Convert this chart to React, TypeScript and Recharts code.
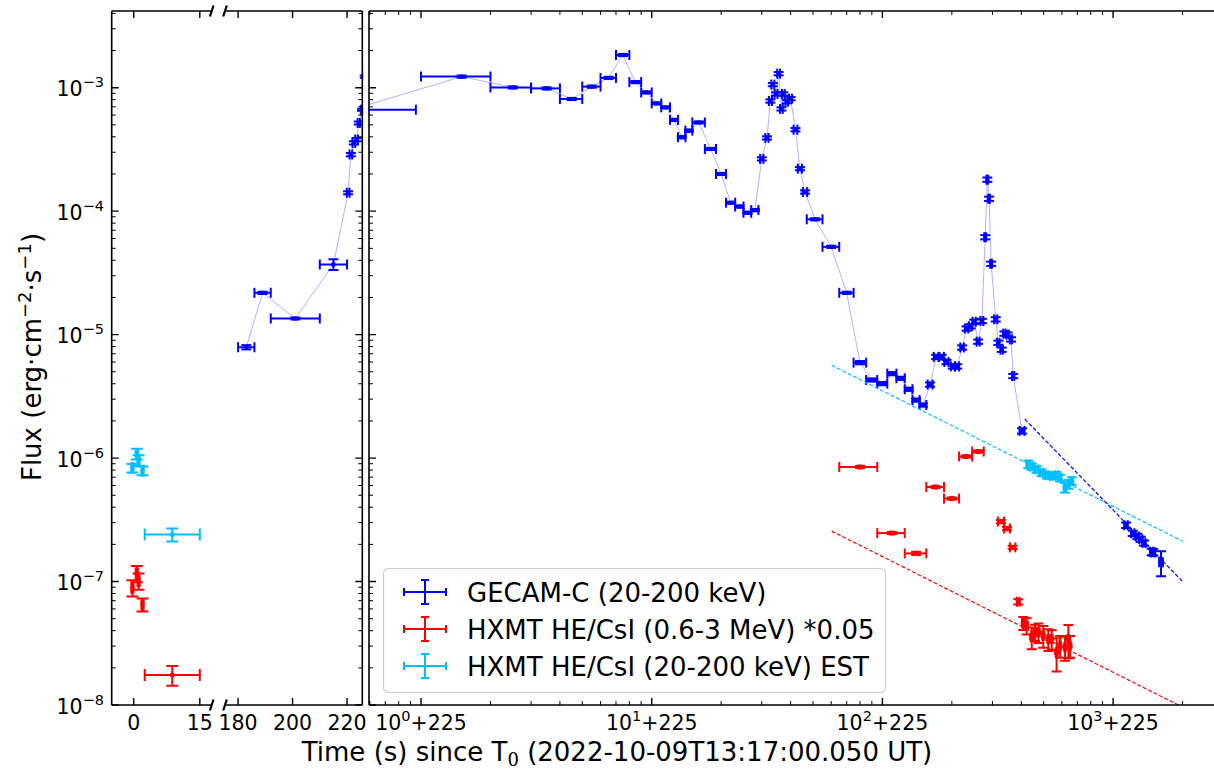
import React from 'react';
import { ComposedChart, Scatter, XAxis, YAxis, ErrorBar } from 'recharts';

const FONT = '"DejaVu Sans", Verdana, sans-serif';
const BLUE = '#0000ff';
const RED = '#ff0000';
const CYAN = '#00bfff';

// The right-hand panel shows time as (t - 225 s) on a log axis
const T_SHIFT = 225;

// ---------------- GECAM-C (20-200 keV), connected light curve ----------------
// bin centre, s since T0
const gecamTime = [
  183, 189, 201, 215, 220.4, 221.4, 222.5, 223.5, 224.3, 225.5,
  226.5, 227.5, 228.5, 229.5, 230.5, 231.5, 232.5, 233.5, 234.5, 235.5,
  236.5, 237.5, 238.5, 239.5, 241, 243, 245, 247, 249, 251,
  253, 255, 256.6, 257.7, 258.5, 259.6, 260.5, 261.5, 262.2, 263.5,
  265, 267, 268.9, 271.2, 276, 285, 295, 305, 315, 325,
  335, 345, 355, 365, 375, 386, 396, 405.7, 414.6, 427,
  436, 446.6, 456.6, 466, 475, 485, 495, 504, 510, 515,
  521, 535, 543, 554, 563, 574, 586, 594, 628,
];
// half bin width, s
const gecamHalfBin = [
  3, 3, 9, 5, 0.5, 0.5, 0.5, 0.5, 0.4, 0.45,
  0.5, 0.5, 0.5, 0.5, 0.5, 0.5, 0.5, 0.5, 0.5, 0.5,
  0.5, 0.5, 0.5, 0.5, 1, 1, 1, 1, 1, 1,
  1, 0.5, 0.5, 0.5, 0.5, 0.5, 0.5, 0.5, 0.5, 0.5,
  0.6, 0.8, 0.9, 1, 4, 5, 5, 5, 5, 5,
  5, 5, 5, 5, 5, 4, 4, 4, 4, 4,
  4, 4, 4, 4, 4, 4, 4, 2.5, 2.5, 2.5,
  2.5, 5, 4, 4, 4, 4, 4, 4, 10,
];
// flux, erg cm^-2 s^-1
const gecamFlux = [
  7.9e-6, 2.18e-5, 1.35e-5, 3.7e-5, 1.41e-4, 2.87e-4, 3.57e-4, 3.8e-4, 5.18e-4, 6.63e-4,
  1.23e-3, 1.005e-3, 9.87e-4, 8.1e-4, 1.02e-3, 1.2e-3, 1.84e-3, 1.11e-3, 9.16e-4, 7.46e-4,
  6.93e-4, 5.48e-4, 3.97e-4, 4.49e-4, 5.23e-4, 3.19e-4, 2.0e-4, 1.17e-4, 1.09e-4, 9.7e-5,
  1.02e-4, 2.65e-4, 3.92e-4, 7.8e-4, 1.06e-3, 8.9e-4, 1.3e-3, 6.73e-4, 8.9e-4, 7.7e-4,
  8.15e-4, 4.57e-4, 2.21e-4, 1.43e-4, 8.59e-5, 5.14e-5, 2.18e-5, 5.93e-6, 4.29e-6, 4.01e-6,
  4.83e-6, 4.43e-6, 3.61e-6, 2.95e-6, 2.69e-6, 3.94e-6, 6.6e-6, 6.6e-6, 6.0e-6, 5.53e-6,
  5.53e-6, 7.87e-6, 1.12e-5, 1.17e-5, 1.27e-5, 8.77e-6, 1.29e-5, 6.15e-5, 1.8e-4, 1.26e-4,
  3.75e-5, 1.33e-5, 8.6e-6, 7.55e-6, 1.02e-5, 1.0e-5, 9.15e-6, 4.62e-6, 1.66e-6,
];
// relative 1-sigma flux error
const gecamRelErr = [
  0.04, 0.02, 0.02, 0.1, 0.03, 0.03, 0.03, 0.03, 0.03, 0.02,
  0.02, 0.02, 0.02, 0.02, 0.02, 0.02, 0.02, 0.02, 0.02, 0.02,
  0.02, 0.02, 0.02, 0.02, 0.02, 0.02, 0.02, 0.02, 0.02, 0.02,
  0.02, 0.03, 0.03, 0.03, 0.03, 0.03, 0.03, 0.03, 0.03, 0.03,
  0.03, 0.03, 0.03, 0.03, 0.02, 0.02, 0.02, 0.03, 0.03, 0.03,
  0.03, 0.03, 0.03, 0.03, 0.03, 0.04, 0.04, 0.04, 0.04, 0.04,
  0.04, 0.04, 0.04, 0.04, 0.04, 0.04, 0.04, 0.04, 0.04, 0.04,
  0.04, 0.04, 0.04, 0.04, 0.04, 0.04, 0.04, 0.04, 0.05,
];

// ---------------- GECAM-C late-time points (not connected) ----------------
const gecamTailTime = [1363, 1442, 1499, 1543, 1587, 1695, 1719, 1839];
const gecamTailHalfBin = [20, 20, 20, 20, 20, 25, 25, 30];
const gecamTailFlux = [2.86e-7, 2.46e-7, 2.32e-7, 2.2e-7, 2.05e-7, 1.74e-7, 1.72e-7, 1.43e-7];
const gecamTailRelErr = [0.05, 0.05, 0.05, 0.05, 0.05, 0.06, 0.06, 0.23];

// ---------------- HXMT HE/CsI (0.6-3 MeV) *0.05 ----------------
const hxmtHighTime = [
  -0.3, 0.7, 1.1, 2.0, 8.75,
  305, 335, 365, 395, 425, 455, 485, 551.6, 572, 592, 613,
  633, 647, 669, 684, 700, 723, 749, 767, 794, 814, 844, 865, 876,
];
const hxmtHighHalfBin = [
  0.25, 0.25, 0.25, 0.25, 6.25,
  15, 15, 15, 15, 15, 15, 15, 10, 10, 10, 5,
  5, 5, 5, 5, 5, 5, 5, 5, 5, 5, 5, 5, 5,
];
const hxmtHighFlux = [
  8.9e-8, 1.16e-7, 1.01e-7, 6.5e-8, 1.75e-8,
  8.47e-7, 2.47e-7, 1.69e-7, 5.83e-7, 4.7e-7, 1.03e-6, 1.13e-6, 3.06e-7, 2.69e-7, 1.89e-7, 6.86e-8,
  4.6e-8, 4.38e-8, 3.53e-8, 3.88e-8, 3.88e-8, 3.64e-8, 3.42e-8, 3.42e-8, 2.67e-8, 3.02e-8, 2.93e-8, 3.42e-8, 3.02e-8,
];
const hxmtHighRelErr = [
  0.15, 0.15, 0.15, 0.12, 0.18,
  0.02, 0.02, 0.03, 0.02, 0.02, 0.02, 0.02, 0.03, 0.03, 0.03, 0.05,
  0.12, 0.15, 0.2, 0.15, 0.18, 0.2, 0.2, 0.18, 0.3, 0.2, 0.22, 0.3, 0.2,
];

// ---------------- HXMT HE/CsI (20-200 keV) EST ----------------
const hxmtLowTime = [-0.3, 0.7, 1.1, 2.0, 8.75, 654, 669, 691, 715, 740, 767, 794, 814, 844, 865, 887];
const hxmtLowHalfBin = [0.25, 0.25, 0.25, 0.25, 6.25, 8, 8, 8, 8, 8, 8, 8, 8, 8, 8, 8];
const hxmtLowFlux = [
  8.3e-7, 1.08e-6, 9.6e-7, 7.9e-7, 2.4e-7,
  8.9e-7, 8.53e-7, 8.1e-7, 7.63e-7, 7.27e-7, 7.17e-7, 7.27e-7, 6.9e-7, 5.77e-7, 6.14e-7, 6.53e-7,
];
const hxmtLowRelErr = [
  0.08, 0.1, 0.1, 0.08, 0.12,
  0.07, 0.06, 0.06, 0.06, 0.06, 0.06, 0.06, 0.06, 0.09, 0.08, 0.07,
];

// ---------------- power-law decay fits (end points) ----------------
const fitLowTime = [285.3, 2230];
const fitLowFlux = [5.64e-6, 2.12e-7];
const fitHighTime = [285.3, 2230];
const fitHighFlux = [2.56e-7, 9.6e-9];
const fitGecamTime = [639, 2230];
const fitGecamFlux = [2.07e-6, 9.96e-8];

// ---------------- axes ----------------
const FLUX_DOMAIN: [number, number] = [1e-8, 4.18e-3];
const FLUX_TICKS = [-8, -7, -6, -5, -4, -3].flatMap((e) =>
  [1, 2, 3, 4, 5, 6, 7, 8, 9].map((m) => m * Math.pow(10, e))
).filter((v) => v <= FLUX_DOMAIN[1]);

const EARLY_DOMAIN: [number, number] = [-5, 17.7];
const EARLY_TICKS = [0, 15];
const RISE_DOMAIN: [number, number] = [175.2, 225.6];
const RISE_TICKS = [180, 200, 220];
const LOG_DOMAIN: [number, number] = [0.595, 3212];
const LOG_TICKS = [-1, 0, 1, 2, 3].flatMap((e) =>
  [1, 2, 3, 4, 5, 6, 7, 8, 9].map((m) => m * Math.pow(10, e))
).filter((v) => v >= LOG_DOMAIN[0] && v <= LOG_DOMAIN[1]);

// ---------------- layout ----------------
const W = 1214;
const H = 770;
const PLOT_TOP = 11;
const PLOT_BOTTOM = 705;
const A_LEFT = 111.7;
const A_RIGHT = 211.7;
const B_LEFT = 225;
const B_RIGHT = 362.3;
const C_LEFT = 369;
const C_RIGHT = 1230;
const AXIS_W = 40;
const AXIS_H = 30;
const TICK_FS = 20.5;
const SUP_FS = 14.5;
const LABEL_FS = 26;

// clip regions: plot area plus the tick-label band beneath it
const polygon = (pts: [number, number][]) => `polygon(${pts.map(([x, y]) => `${x}px ${y}px`).join(', ')})`;
const CLIP_A = polygon([[0, 0], [A_RIGHT + 0.8, 0], [A_RIGHT + 0.8, PLOT_BOTTOM + 1], [218, PLOT_BOTTOM + 1], [218, H], [0, H]]);
const CLIP_B = polygon([
  [B_LEFT, 0], [B_RIGHT + 0.8, 0], [B_RIGHT + 0.8, PLOT_BOTTOM + 1], [370, PLOT_BOTTOM + 1], [370, H],
  [B_LEFT - 8, H], [B_LEFT - 8, PLOT_BOTTOM + 1], [B_LEFT, PLOT_BOTTOM + 1],
]);
const CLIP_C = polygon([
  [C_LEFT - 0.8, 0], [1240, 0], [1240, PLOT_BOTTOM + 1], [1165, PLOT_BOTTOM + 1], [1165, H], [C_LEFT - 0.8, H],
]);

type Row = { x: number; y: number; ex: number; ey: number };

function buildRows(time: number[], half: number[], flux: number[], rel: number[], shift = 0): Row[] {
  return time.map((t, i) => ({ x: t - shift, y: flux[i], ex: half[i], ey: flux[i] * rel[i] }));
}

function buildLine(time: number[], flux: number[], shift = 0): Row[] {
  return time.map((t, i) => ({ x: t - shift, y: flux[i], ex: 0, ey: 0 }));
}

const isDecade = (v: number) => {
  const l = Math.log10(v);
  return Math.abs(l - Math.round(l)) < 1e-6;
};

const gecamRows = buildRows(gecamTime, gecamHalfBin, gecamFlux, gecamRelErr);
const highRows = buildRows(hxmtHighTime, hxmtHighHalfBin, hxmtHighFlux, hxmtHighRelErr);
const lowRows = buildRows(hxmtLowTime, hxmtLowHalfBin, hxmtLowFlux, hxmtLowRelErr);

const positive = (rows: Row[]) => rows.filter((r) => r.x > 0);
const gecamRowsLog = positive(buildRows(gecamTime, gecamHalfBin, gecamFlux, gecamRelErr, T_SHIFT));
const gecamTailRowsLog = positive(buildRows(gecamTailTime, gecamTailHalfBin, gecamTailFlux, gecamTailRelErr, T_SHIFT));
const highRowsLog = positive(buildRows(hxmtHighTime, hxmtHighHalfBin, hxmtHighFlux, hxmtHighRelErr, T_SHIFT));
const lowRowsLog = positive(buildRows(hxmtLowTime, hxmtLowHalfBin, hxmtLowFlux, hxmtLowRelErr, T_SHIFT));
const fitLowRows = buildLine(fitLowTime, fitLowFlux, T_SHIFT);
const fitHighRows = buildLine(fitHighTime, fitHighFlux, T_SHIFT);
const fitGecamRows = buildLine(fitGecamTime, fitGecamFlux, T_SHIFT);

// ---------------- marks ----------------
const square = (size: number, color: string) => (props: any) => {
  const { cx, cy } = props;
  if (!Number.isFinite(cx) || !Number.isFinite(cy)) return <g />;
  return <rect x={cx - size / 2} y={cy - size / 2} width={size} height={size} fill={color} />;
};
const noMarker = () => <g />;

// ---------------- ticks ----------------
const yTick = (spineX: number, dir: 1 | -1, withLabel: boolean) => (props: any) => {
  const { y, payload } = props;
  const v = payload.value as number;
  const major = isDecade(v);
  const len = major ? 7 : 4;
  const e = Math.round(Math.log10(v));
  return (
    <g>
      <line x1={spineX} x2={spineX + dir * len} y1={y} y2={y} stroke="#000" strokeWidth={major ? 1.4 : 1} />
      {withLabel && major && (
        <text x={104} y={y + 8.5} textAnchor="end" fontSize={TICK_FS} fontFamily={FONT} fill="#000">
          10
          <tspan dy={-9} fontSize={SUP_FS}>{'\u2212' + Math.abs(e)}</tspan>
        </text>
      )}
    </g>
  );
};

const xTickLinear = (props: any) => {
  const { x, payload } = props;
  return (
    <g>
      <line x1={x} x2={x} y1={PLOT_BOTTOM} y2={PLOT_BOTTOM - 7} stroke="#000" strokeWidth={1.4} />
      <line x1={x} x2={x} y1={PLOT_TOP} y2={PLOT_TOP + 7} stroke="#000" strokeWidth={1.4} />
      <text x={x} y={729.5} textAnchor="middle" fontSize={TICK_FS} fontFamily={FONT} fill="#000">
        {payload.value}
      </text>
    </g>
  );
};

const xTickLog = (props: any) => {
  const { x, payload } = props;
  const v = payload.value as number;
  const major = isDecade(v);
  const len = major ? 7 : 4;
  const e = Math.round(Math.log10(v));
  return (
    <g>
      <line x1={x} x2={x} y1={PLOT_BOTTOM} y2={PLOT_BOTTOM - len} stroke="#000" strokeWidth={major ? 1.4 : 1} />
      <line x1={x} x2={x} y1={PLOT_TOP} y2={PLOT_TOP + len} stroke="#000" strokeWidth={major ? 1.4 : 1} />
      {major && (
        <text x={x} y={729.5} textAnchor="middle" fontSize={TICK_FS} fontFamily={FONT} fill="#000">
          10
          <tspan dy={-9} fontSize={SUP_FS}>{e}</tspan>
          <tspan dy={9}>{'+' + T_SHIFT}</tspan>
        </text>
      )}
    </g>
  );
};

// ---------------- series helpers ----------------
function dataSeries(rows: Row[], color: string, marker: number, capW: number, key: string, line?: boolean) {
  return (
    <Scatter
      key={key}
      data={rows}
      fill={color}
      shape={square(marker, color)}
      isAnimationActive={false}
      line={line ? { stroke: color, strokeOpacity: 0.35, strokeWidth: 0.9 } : false}
      lineType="joint"
    >
      <ErrorBar dataKey="ex" direction="x" width={capW} stroke={color} strokeWidth={2} />
      <ErrorBar dataKey="ey" direction="y" width={capW} stroke={color} strokeWidth={2} />
    </Scatter>
  );
}

function fitSeries(rows: Row[], color: string, key: string) {
  return (
    <Scatter
      key={key}
      data={rows}
      fill={color}
      shape={noMarker}
      isAnimationActive={false}
      line={{ stroke: color, strokeWidth: 1.2, strokeDasharray: '4 2' }}
      lineType="joint"
    />
  );
}

const legendRows = [
  { label: 'GECAM-C (20-200 keV)', color: BLUE },
  { label: 'HXMT HE/CsI (0.6-3 MeV) *0.05', color: RED },
  { label: 'HXMT HE/CsI (20-200 keV) EST', color: CYAN },
];

function BreakMark({ x, y }: { x: number; y: number }) {
  return <line x1={x - 1.8} y1={y + 5.5} x2={x + 1.8} y2={y - 5.5} stroke="#000" strokeWidth={2.2} />;
}

export default function App() {
  const spine = { stroke: '#000', strokeWidth: 1.6 };
  return (
    <div style={{ position: 'relative', width: W, height: H, overflow: 'hidden', background: '#fff' }}>
      <style>{'body{margin:0;overflow:hidden;background:#fff}'}</style>

      {/* early HXMT emission, 0-15 s */}
      <div style={{ position: 'absolute', left: 0, top: 0, clipPath: CLIP_A }}>
        <ComposedChart
          width={240}
          height={H}
          margin={{ top: PLOT_TOP, bottom: H - PLOT_BOTTOM - AXIS_H, left: A_LEFT - AXIS_W, right: 240 - A_RIGHT }}
        >
          <XAxis dataKey="x" type="number" domain={EARLY_DOMAIN} allowDataOverflow ticks={EARLY_TICKS} interval={0}
            height={AXIS_H} tickLine={false} axisLine={false} tick={xTickLinear} />
          <YAxis dataKey="y" type="number" scale="log" domain={FLUX_DOMAIN} allowDataOverflow ticks={FLUX_TICKS}
            interval={0} width={AXIS_W} tickLine={false} axisLine={false} tick={yTick(A_LEFT, 1, true)} />
          {dataSeries(highRows, RED, 4, 6, 'high-a')}
          {dataSeries(lowRows, CYAN, 4, 6, 'low-a')}
        </ComposedChart>
      </div>

      {/* GECAM rise, 175-225 s */}
      <div style={{ position: 'absolute', left: 0, top: 0, clipPath: CLIP_B }}>
        <ComposedChart
          width={440}
          height={H}
          margin={{ top: PLOT_TOP, bottom: H - PLOT_BOTTOM - AXIS_H, left: B_LEFT, right: 440 - B_RIGHT - AXIS_W }}
        >
          <XAxis dataKey="x" type="number" domain={RISE_DOMAIN} allowDataOverflow ticks={RISE_TICKS} interval={0}
            height={AXIS_H} tickLine={false} axisLine={false} tick={xTickLinear} />
          <YAxis dataKey="y" orientation="right" type="number" scale="log" domain={FLUX_DOMAIN} allowDataOverflow
            ticks={FLUX_TICKS} interval={0} width={AXIS_W} tickLine={false} axisLine={false}
            tick={yTick(B_RIGHT, -1, false)} />
          {dataSeries(gecamRows, BLUE, 4, 5, 'gecam-b', true)}
        </ComposedChart>
      </div>

      {/* main emission on log(t - 225) */}
      <div style={{ position: 'absolute', left: 0, top: 0, clipPath: CLIP_C }}>
        <ComposedChart
          width={1240}
          height={H}
          margin={{ top: PLOT_TOP, bottom: H - PLOT_BOTTOM - AXIS_H, left: C_LEFT - AXIS_W, right: 1240 - C_RIGHT }}
        >
          <XAxis dataKey="x" type="number" scale="log" domain={LOG_DOMAIN} allowDataOverflow ticks={LOG_TICKS}
            interval={0} height={AXIS_H} tickLine={false} axisLine={false} tick={xTickLog} />
          <YAxis dataKey="y" type="number" scale="log" domain={FLUX_DOMAIN} allowDataOverflow ticks={FLUX_TICKS}
            interval={0} width={AXIS_W} tickLine={false} axisLine={false} tick={yTick(C_LEFT, 1, false)} />
          {dataSeries(gecamRowsLog, BLUE, 4, 5, 'gecam-c', true)}
          {dataSeries(gecamTailRowsLog, BLUE, 5, 5, 'gecam-tail')}
          {dataSeries(highRowsLog, RED, 5, 5, 'high-c')}
          {dataSeries(lowRowsLog, CYAN, 5, 5, 'low-c')}
          {fitSeries(fitLowRows, CYAN, 'fit-low')}
          {fitSeries(fitHighRows, RED, 'fit-high')}
          {fitSeries(fitGecamRows, BLUE, 'fit-gecam')}
        </ComposedChart>
      </div>

      {/* frames, titles and legend */}
      <svg width={W} height={H} style={{ position: 'absolute', left: 0, top: 0, pointerEvents: 'none' }}
        fontFamily={FONT}>
        <g {...spine} fill="none">
          <line x1={A_LEFT} y1={PLOT_TOP} x2={A_LEFT} y2={PLOT_BOTTOM} />
          <line x1={A_LEFT} y1={PLOT_TOP} x2={A_RIGHT} y2={PLOT_TOP} />
          <line x1={A_LEFT} y1={PLOT_BOTTOM} x2={A_RIGHT} y2={PLOT_BOTTOM} />
          <line x1={B_RIGHT} y1={PLOT_TOP} x2={B_RIGHT} y2={PLOT_BOTTOM} />
          <line x1={B_LEFT} y1={PLOT_TOP} x2={B_RIGHT} y2={PLOT_TOP} />
          <line x1={B_LEFT} y1={PLOT_BOTTOM} x2={B_RIGHT} y2={PLOT_BOTTOM} />
          <line x1={C_LEFT} y1={PLOT_TOP} x2={C_LEFT} y2={PLOT_BOTTOM} />
          <line x1={C_LEFT} y1={PLOT_TOP} x2={W + 10} y2={PLOT_TOP} />
          <line x1={C_LEFT} y1={PLOT_BOTTOM} x2={W + 10} y2={PLOT_BOTTOM} />
        </g>
        <BreakMark x={A_RIGHT} y={PLOT_TOP} />
        <BreakMark x={B_LEFT} y={PLOT_TOP} />
        <BreakMark x={A_RIGHT} y={PLOT_BOTTOM} />
        <BreakMark x={B_LEFT} y={PLOT_BOTTOM} />

        <text transform="translate(41,357) rotate(-90)" textAnchor="middle" fontSize={LABEL_FS} fill="#000">
          Flux (erg·cm
          <tspan dy={-10} fontSize={18}>{'\u22122'}</tspan>
          <tspan dy={10}>·s</tspan>
          <tspan dy={-10} fontSize={18}>{'\u22121'}</tspan>
          <tspan dy={10}>)</tspan>
        </text>
        <text x={617} y={761} textAnchor="middle" fontSize={LABEL_FS} fill="#000">
          Time (s) since T
          <tspan dy={5} fontSize={18} fontFamily='"DejaVu Serif", serif'>0</tspan>
          <tspan dy={-5}> (2022-10-09T13:17:00.050 UT)</tspan>
        </text>

        <rect x={383.5} y={568.5} width={502} height={124} rx={5} fill="#fff" fillOpacity={0.8} stroke="#cccccc"
          strokeWidth={1.2} />
        {legendRows.map((r, i) => {
          const cy = 592 + i * 37;
          const cx = 425;
          return (
            <g key={r.label}>
              <g stroke={r.color} strokeWidth={2}>
                <line x1={404} x2={446} y1={cy} y2={cy} />
                <line x1={404} x2={404} y1={cy - 4} y2={cy + 4} />
                <line x1={446} x2={446} y1={cy - 4} y2={cy + 4} />
                <line x1={cx} x2={cx} y1={cy - 12} y2={cy + 12} />
                <line x1={cx - 4} x2={cx + 4} y1={cy - 12} y2={cy - 12} />
                <line x1={cx - 4} x2={cx + 4} y1={cy + 12} y2={cy + 12} />
              </g>
              <text x={467} y={cy + 9.5} fontSize={LABEL_FS} fill="#000">{r.label}</text>
            </g>
          );
        })}
      </svg>
    </div>
  );
}
